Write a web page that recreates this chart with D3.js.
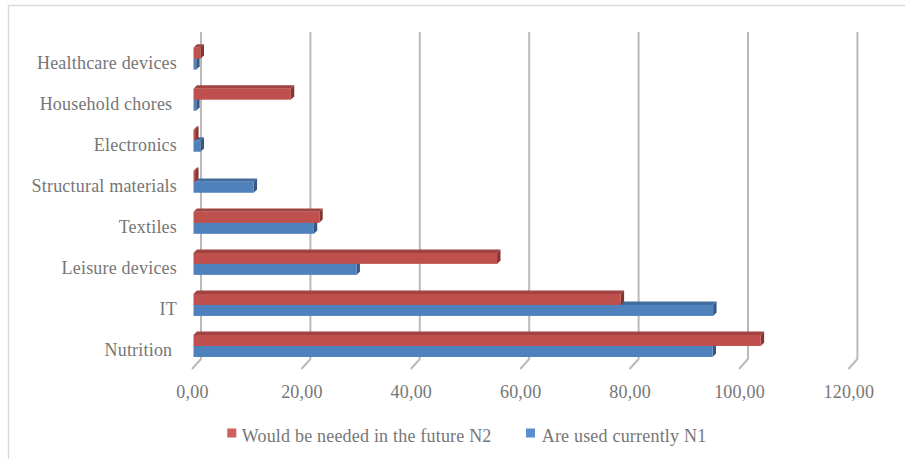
<!DOCTYPE html>
<html><head><meta charset="utf-8">
<script src="https://cdn.jsdelivr.net/npm/d3@7"></script>
<style>
html,body{margin:0;padding:0;background:#fff;}
svg{display:block;}
text{font-family:"Liberation Serif","Times New Roman",serif;fill:#767676;letter-spacing:0.2px;}
</style></head>
<body>
<script>
const categories = ["Healthcare devices","Household chores ","Electronics","Structural materials","Textiles","Leisure devices","IT","Nutrition "];
const futureN2 = [1.3, 17.8, 0.3, 0.3, 23.0, 55.5, 78.1, 103.7];
const currentN1 = [0.5, 0.5, 1.3, 11.0, 22.0, 29.8, 95.0, 94.9];
const seriesNames = ["Would be needed in the future N2", "Are used currently N1"];
const xTicks = [0, 20, 40, 60, 80, 100, 120];
const tickLabels = ["0,00","20,00","40,00","60,00","80,00","100,00","120,00"];

const W = 905, H = 459;
const svg = d3.select("body").append("svg").attr("width", W).attr("height", H);

// chart border
svg.append("path").attr("d", "M8.5,459 L8.5,5.5 L905,5.5")
  .attr("fill","none").attr("stroke","#d9d9d9").attr("stroke-width",1.5);

const x = d3.scaleLinear().domain([0,120]).range([193.5, 849.9]);
const y = d3.scaleBand().domain(categories).range([38.1, 366.5]).padding(0);

const backDX = 7.5, gridTop = 32, gridBottom = 359, floorY = 369;
const red = "#c0504d", blue = "#4f81bd";

// gridlines (back wall + floor foot)
const grid = svg.append("g");
xTicks.forEach(v => {
  const xb = x(v) + backDX;
  grid.append("path")
    .attr("d", `M${xb},${gridTop} L${xb},${gridBottom} L${x(v)-1.5},${floorY}`)
    .attr("fill","none").attr("stroke","#bababa").attr("stroke-width",2)
    .attr("stroke-linejoin","round");
});

// tick labels
svg.append("g").selectAll("text").data(xTicks).join("text")
  .attr("x", (d) => x(d) - 1).attr("y", 397.5)
  .attr("text-anchor","middle").attr("font-size",18)
  .text((d,i) => tickLabels[i]);

// category labels
svg.append("g").selectAll("text").data(categories).join("text")
  .attr("x", 177).attr("y", d => y(d) + y.bandwidth()/2 + 10.5)
  .attr("text-anchor","end").attr("font-size",18)
  .style("white-space","pre")
  .text(d => d);

// 3D bars
const bh = 11, dd = 3.4;
function bar3d(g, v, yTop, color) {
  const x0 = x(0), x1 = x(v);
  const c = d3.color(color);
  g.append("path")
    .attr("d", `M${x0},${yTop} L${x0+dd},${yTop-dd} L${x1+dd},${yTop-dd} L${x1},${yTop} Z`)
    .attr("fill", c.darker(0.5));
  g.append("path")
    .attr("d", `M${x1},${yTop} L${x1+dd},${yTop-dd} L${x1+dd},${yTop+bh-dd} L${x1},${yTop+bh} Z`)
    .attr("fill", c.darker(1.1));
  g.append("rect").attr("x", x0).attr("y", yTop).attr("width", Math.max(0, x1-x0)).attr("height", bh)
    .attr("fill", color);
}
const bars = svg.append("g");
categories.forEach((c, i) => {
  const mid = y(c) + y.bandwidth()/2;
  bar3d(bars, currentN1[i], mid, blue);
  bar3d(bars, futureN2[i], mid - bh, red);
});

// legend
const leg = svg.append("g");
const legItems = [
  {name: seriesNames[0], color: "#cf5f5b", sx: 227.3, tx: 241.7},
  {name: seriesNames[1], color: "#5a8fcf", sx: 526, tx: 541.7}
];
legItems.forEach(it => {
  leg.append("rect").attr("x", it.sx).attr("y", 428.5).attr("width", 9).attr("height", 9).attr("fill", it.color);
  leg.append("text").attr("x", it.tx).attr("y", 441.5).attr("font-size", 18).text(it.name);
});
</script>
</body></html>
